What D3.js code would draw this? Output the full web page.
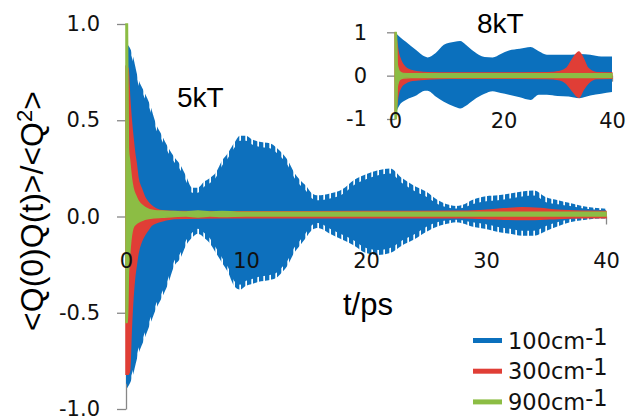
<!DOCTYPE html>
<html><head><meta charset="utf-8">
<script src="https://cdn.jsdelivr.net/npm/d3@7"></script>
<style>
html,body{margin:0;padding:0;background:#fff;}
svg{display:block;}
</style></head><body>
<svg id="chart" width="626" height="420"></svg>
<script>
// Normalised autocorrelation <Q(0)Q(t)>/<Q^2> for three mode frequencies.
// Each fast-oscillating trace is stored as its upper / lower envelope.

// ---- 5kT (main panel) ----
const blue5T  = [0,0.5,1,1.5,2,2.5,3,3.5,4,4.5,5,5.5,6,6.5,7,7.5,8,8.5,9,9.5,10,10.5,11,12,12.5,13,13.5,14,14.5,15,15.5,16,17,18,19,20,21,22,23,24,25,26,27,27.5,28,29,30,31,32,33,34,35,36,37,38,39,40];
const blue5Hi = [0.90,0.85,0.72,0.65,0.58,0.48,0.42,0.36,0.31,0.27,0.21,0.15,0.15,0.18,0.20,0.23,0.29,0.33,0.38,0.42,0.42,0.40,0.39,0.38,0.36,0.33,0.29,0.23,0.19,0.16,0.12,0.11,0.12,0.14,0.19,0.22,0.24,0.25,0.20,0.16,0.13,0.085,0.06,0.055,0.06,0.09,0.105,0.11,0.12,0.13,0.135,0.10,0.085,0.07,0.055,0.045,0.04];
const blue5Lo = [-0.90,-0.84,-0.72,-0.64,-0.56,-0.48,-0.42,-0.35,-0.26,-0.22,-0.15,-0.11,-0.09,-0.11,-0.14,-0.19,-0.24,-0.29,-0.36,-0.38,-0.36,-0.35,-0.34,-0.33,-0.32,-0.29,-0.25,-0.19,-0.15,-0.11,-0.07,-0.06,-0.09,-0.12,-0.15,-0.19,-0.20,-0.19,-0.15,-0.12,-0.08,-0.05,-0.035,-0.03,-0.035,-0.055,-0.065,-0.08,-0.09,-0.10,-0.10,-0.075,-0.05,-0.03,-0.02,-0.012,-0.01];

const red5T  = [0,0.17,0.3,0.44,0.58,0.72,0.86,1.0,1.28,1.56,1.83,2.1,2.5,3.2,4,8,15,22,28,30,31.5,33,34.5,36,38,40];
const red5Hi = [0.78,0.77,0.62,0.50,0.41,0.33,0.27,0.20,0.145,0.10,0.074,0.057,0.04,0.028,0.026,0.025,0.025,0.026,0.027,0.032,0.04,0.046,0.042,0.032,0.027,0.026];
const red5Lo = [-0.82,-0.82,-0.80,-0.58,-0.42,-0.315,-0.25,-0.19,-0.13,-0.095,-0.07,-0.047,-0.033,-0.02,-0.01,-0.006,-0.006,-0.006,-0.007,-0.01,-0.014,-0.016,-0.014,-0.01,-0.007,-0.006];

const green5T  = [0,0.12,0.2,0.3,0.45,0.58,0.8,1.0,1.56,2.4,3,4,5,6,7,8,10,15,20,25,30,35,40];
const green5Hi = [1.0,1.0,0.35,0.29,0.20,0.15,0.11,0.083,0.048,0.03,0.028,0.026,0.024,0.028,0.024,0.026,0.022,0.022,0.022,0.022,0.022,0.022,0.022];
const green5Lo = [-0.55,-0.55,-0.30,-0.20,-0.10,-0.06,-0.04,-0.03,-0.015,-0.006,-0.004,0.0,0.002,-0.002,0.002,0.0,0.002,0.002,0.002,0.002,0.002,0.002,0.002];

// ---- 8kT (inset) ----
const blue8T  = [0,1,2,4,5.5,6,7.5,9,11,12,13,14.5,16.5,18,19.5,21,23,25,26.5,28,30,32,34,36,38,40];
const blue8Hi = [1.0,0.88,0.78,0.58,0.44,0.42,0.52,0.71,0.78,0.80,0.72,0.56,0.43,0.42,0.50,0.58,0.62,0.66,0.56,0.48,0.48,0.48,0.50,0.48,0.44,0.44];
const blue8Lo = [-0.9,-0.65,-0.56,-0.45,-0.35,-0.35,-0.48,-0.60,-0.72,-0.76,-0.70,-0.56,-0.42,-0.36,-0.40,-0.44,-0.50,-0.56,-0.44,-0.44,-0.47,-0.48,-0.52,-0.46,-0.42,-0.38];

const red8T  = [0,0.3,0.6,1.2,1.8,2.8,4.3,6,10,20,28,30.4,31.6,32.8,33.9,34.7,35.6,37.2,40];
const red8Hi = [1.0,0.8,0.55,0.32,0.21,0.13,0.09,0.07,0.065,0.065,0.07,0.10,0.17,0.40,0.55,0.40,0.17,0.07,0.065];
const red8Lo = [-0.9,-0.7,-0.44,-0.25,-0.18,-0.12,-0.10,-0.08,-0.065,-0.065,-0.07,-0.10,-0.18,-0.37,-0.50,-0.33,-0.18,-0.07,-0.065];

const green8T  = [0,0.3,0.45,0.9,1.5,3,40];
const green8Hi = [1.0,1.0,0.25,0.09,0.055,0.045,0.045];
const green8Lo = [-1.0,-1.0,-0.25,-0.09,-0.055,-0.045,-0.045];

// ---- axes / legend text ----
const mainXTicks  = [0,10,20,30,40];
const mainYTicks  = [-1,-0.5,0,0.5,1];
const insetXTicks = [0,20,40];
const insetYTicks = [-1,0,1];
const legendNames = ["100cm", "300cm", "900cm"];
const colors = { blue: "#0b70bd", red: "#e03e36", green: "#8cbd44" };
const seriesColors = [colors.blue, colors.red, colors.green];

const svg = d3.select("#chart");
const AXIS = "#878787";

// Scales
const xMain = d3.scaleLinear().domain([0, 40]).range([126, 606]);
const yMain = d3.scaleLinear().domain([-1, 1]).range([409, 24]);
const xIns  = d3.scaleLinear().domain([0, 40]).range([395, 612]);
const yIns  = d3.scaleLinear().domain([-1, 1]).range([119, 32.3]);

// Fine comb used to give the 100 cm-1 band its toothed edge
const defs = svg.append("defs");
defs.append("pattern")
  .attr("id", "comb").attr("patternUnits", "userSpaceOnUse")
  .attr("x", xMain(0) + 1).attr("y", 0).attr("width", 6).attr("height", 8)
  .append("rect").attr("width", 4.3).attr("height", 8).attr("fill", colors.blue);
defs.append("filter").attr("id", "soft")
  .append("feGaussianBlur").attr("stdDeviation", 0.45);

function bandPath(x, y, T, hi, lo, shrink) {
  const k = i => shrink ? Math.min(5, 0.16 * (y(lo[i]) - y(hi[i]))) : 0;
  return d3.area().curve(d3.curveMonotoneX)
    .x((d, i) => x(T[i]))
    .y0((d, i) => y(lo[i]) - k(i))
    .y1((d, i) => y(hi[i]) + k(i))(T);
}

// Axis lines and tick marks sit behind the traces
function axesBack(x, y, xt, yt, xLen, yLen) {
  const gy = svg.append("g").attr("transform", `translate(${x.range()[0]},0)`)
    .call(d3.axisLeft(y).tickValues(yt).tickSize(yLen).tickSizeOuter(0).tickFormat(() => ""));
  const gx = svg.append("g").attr("transform", `translate(0,${y(0)})`)
    .call(d3.axisBottom(x).tickValues(xt).tickSize(xLen).tickSizeOuter(0).tickFormat(() => ""));
  [gy, gx].forEach(g => { g.selectAll("path,line").attr("stroke", AXIS).attr("stroke-width", 1.3); });
}
axesBack(xMain, yMain, mainXTicks, mainYTicks, 8, 9);
axesBack(xIns, yIns, insetXTicks, insetYTicks, 6, 8);

// Main panel traces
const gm = svg.append("g");
const gb = gm.append("g").attr("filter", "url(#soft)");
gb.append("path").attr("d", bandPath(xMain, yMain, blue5T, blue5Hi, blue5Lo, false)).attr("fill", "url(#comb)");
gb.append("path").attr("d", bandPath(xMain, yMain, blue5T, blue5Hi, blue5Lo, true)).attr("fill", colors.blue);
gm.append("path").attr("d", bandPath(xMain, yMain, red5T, red5Hi, red5Lo, false))
  .attr("fill", colors.red).attr("stroke", colors.red).attr("stroke-width", 1.5);
gm.append("path").attr("d", bandPath(xMain, yMain, green5T, green5Hi, green5Lo, false))
  .attr("fill", colors.green).attr("stroke", colors.green).attr("stroke-width", 1.5);

// Inset traces
const gi = svg.append("g");
gi.append("path").attr("d", bandPath(xIns, yIns, blue8T, blue8Hi, blue8Lo, false)).attr("fill", colors.blue);
gi.append("path").attr("d", bandPath(xIns, yIns, red8T, red8Hi, red8Lo, false))
  .attr("fill", colors.red).attr("stroke", colors.red).attr("stroke-width", 1.2);
gi.append("path").attr("d", bandPath(xIns, yIns, green8T, green8Hi, green8Lo, false))
  .attr("fill", colors.green).attr("stroke", colors.green).attr("stroke-width", 1.2);

// Tick labels drawn on top of the traces
function axesFront(x, y, xt, yt, xf, yf, xPad, yPad, size) {
  const gy = svg.append("g").attr("transform", `translate(${x.range()[0]},0)`)
    .call(d3.axisLeft(y).tickValues(yt).tickSize(0).tickPadding(yPad).tickFormat(yf));
  const gx = svg.append("g").attr("transform", `translate(0,${y(0)})`)
    .call(d3.axisBottom(x).tickValues(xt).tickSize(0).tickPadding(xPad).tickFormat(xf));
  [gy, gx].forEach(g => {
    g.select(".domain").remove();
    g.selectAll("line").remove();
    g.attr("font-family", "DejaVu Sans").attr("font-size", size);
    g.selectAll("text").attr("fill", "#111");
  });
}
axesFront(xMain, yMain, mainXTicks, mainYTicks, d => String(d), d => d.toFixed(1), 37, 26, 21);
axesFront(xIns, yIns, insetXTicks, insetYTicks, d => String(d), d => String(d), 37, 28, 21);

// Panel captions
svg.append("text").attr("x", 177).attr("y", 107).text("5kT")
  .attr("font-family", "Liberation Sans").attr("font-size", 28).attr("fill", "#000");
svg.append("text").attr("x", 477).attr("y", 33).text("8kT")
  .attr("font-family", "Liberation Sans").attr("font-size", 28).attr("fill", "#000");

// Axis titles
svg.append("text").attr("x", 343).attr("y", 315).text("t/ps")
  .attr("font-family", "Liberation Sans").attr("font-size", 31).attr("fill", "#000");
const yt = svg.append("text")
  .attr("transform", "translate(43,211) rotate(-90)")
  .attr("text-anchor", "middle")
  .attr("font-family", "Liberation Sans").attr("font-size", 32).attr("fill", "#000");
yt.append("tspan").text("<Q(0)Q(t)>/<Q");
yt.append("tspan").attr("dy", -11).attr("font-size", 22).text("2");
yt.append("tspan").attr("dy", 11).text(">");

// Legend
const lg = svg.append("g").attr("transform", "translate(473,340.5)");
legendNames.forEach((name, i) => {
  const row = lg.append("g").attr("transform", `translate(0,${i * 30.7})`);
  row.append("line").attr("x1", 0).attr("x2", 29).attr("y1", 0).attr("y2", 0)
    .attr("stroke", seriesColors[i]).attr("stroke-width", 5);
  const t = row.append("text").attr("x", 35).attr("y", 8)
    .attr("font-family", "DejaVu Sans").attr("font-size", 22.5).attr("fill", "#111");
  t.append("tspan").text(name);
  t.append("tspan").attr("dy", -4).text("-1");
});
</script>
</body></html>
